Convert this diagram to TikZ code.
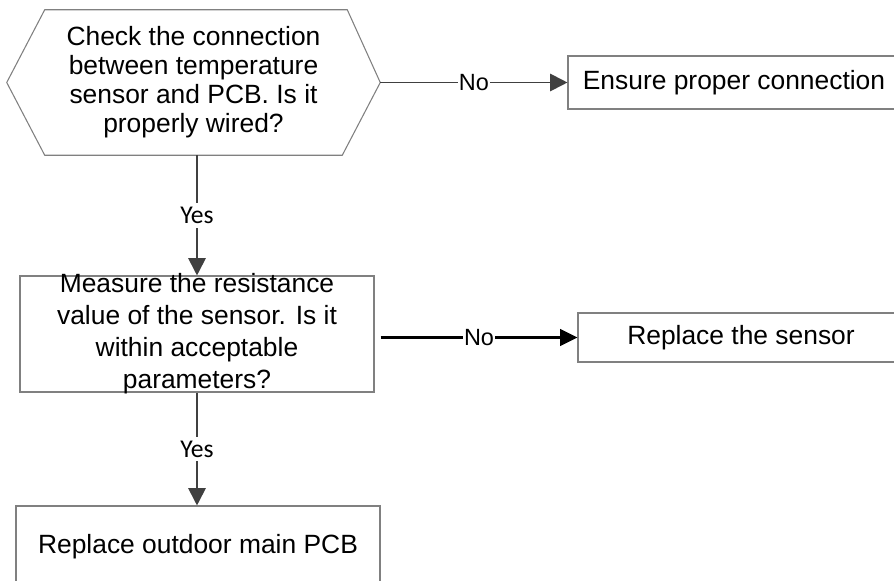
\documentclass[tikz,border=0pt]{standalone}
\usepackage{fontspec}
\setmainfont{Liberation Sans}
\newfontfamily\yesfont{Carlito}
\usetikzlibrary{arrows.meta,calc}
\tikzset{
  box/.style={draw=gray,line width=0.8pt,inner sep=0pt},
  txt/.style={align=center,font=\fontsize{19.8pt}{21.75pt}\selectfont},
  flow/.style={draw=black!75,line width=1.4pt,-{Triangle[length=13pt,width=13pt]}},
  flowdark/.style={draw=black,line width=1.7pt,-{Triangle[length=13pt,width=12.5pt]}},
  nolabel/.style={fill=white,inner xsep=0.5pt,inner ysep=2pt,font=\fontsize{17.6pt}{20pt}\selectfont},
  yeslabel/.style={fill=white,inner xsep=1pt,inner ysep=3pt,font=\yesfont\fontsize{19.2pt}{22pt}\selectfont},
}
\begin{document}
\begin{tikzpicture}[x=0.75pt,y=-0.75pt]
\clip (0,0) rectangle (894,581);
\node[txt,inner sep=0pt,minimum width=279.75pt,minimum height=108.75pt] (chk) at (193.5,82.5)
  {Check the connection\\between temperature\\sensor and PCB. Is it\\properly wired?};
\draw[box] (chk.west) -- ($(chk.north west)+(38,0)$) -- ($(chk.north east)+(-33,0)$) -- (chk.east)
  -- ($(chk.south east)+(-38,0)$) -- ($(chk.south west)+(38,0)$) -- cycle;
\node[box,txt,minimum width=249pt,minimum height=39.75pt] (ens) at (734,82.5) {Ensure proper connection};
\node[box,minimum width=265.5pt,minimum height=87pt] (meas) at (197,334) {};
\node[txt,font=\fontsize{19.8pt}{24pt}\selectfont] (meastxt) at (meas.center)
  {Measure the resistance\\value of the sensor. Is it\\within acceptable\\parameters?};
\node[box,txt,minimum width=244.5pt,minimum height=36.75pt] (rep) at (741,337.5) {Replace the sensor};
\node[box,txt,minimum width=273pt,minimum height=61.5pt] (pcb) at (198,547) {Replace outdoor main PCB};
\draw[flow] (chk.east) -- (ens.west) node[midway,nolabel] {No};
\draw[flow] (chk.south -| meas.north) -- (meas.north) node[midway,yeslabel] {Yes};
\draw[flowdark] ($(meas.east |- rep.west)+(6,0)$) -- (rep.west) node[midway,nolabel] {No};
\draw[flow] (meas.south) -- (meas.south |- pcb.north) node[midway,yeslabel] {Yes};
\end{tikzpicture}
\end{document}
